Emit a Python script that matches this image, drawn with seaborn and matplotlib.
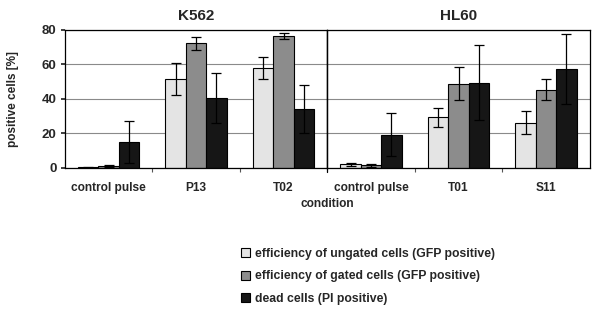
import matplotlib
matplotlib.use('Agg')
import matplotlib.pyplot as plt
import seaborn as sns
import pandas as pd
from matplotlib.patches import Patch

# values (percent positive cells, mean and error)
cell_lines = ['K562', 'HL60']
conditions = {'K562': ['control pulse', 'P13', 'T02'],
              'HL60': ['control pulse', 'T01', 'S11']}
series = ['efficiency of ungated cells (GFP positive)',
          'efficiency of gated cells (GFP positive)',
          'dead cells (PI positive)']

k562_ungated = [0.5, 51.5, 58.0]
k562_gated = [1.0, 72.3, 76.5]
k562_dead = [15.0, 40.5, 34.0]
k562_ungated_err = [0.3, 9.5, 6.5]
k562_gated_err = [0.5, 3.7, 2.0]
k562_dead_err = [12.0, 14.5, 14.0]

hl60_ungated = [2.1, 29.3, 26.3]
hl60_gated = [1.5, 48.8, 45.3]
hl60_dead = [19.3, 49.5, 57.2]
hl60_ungated_err = [0.8, 5.3, 6.8]
hl60_gated_err = [0.9, 9.7, 6.2]
hl60_dead_err = [12.4, 22.0, 20.3]

means = {'K562': [k562_ungated, k562_gated, k562_dead],
         'HL60': [hl60_ungated, hl60_gated, hl60_dead]}
errs = {'K562': [k562_ungated_err, k562_gated_err, k562_dead_err],
        'HL60': [hl60_ungated_err, hl60_gated_err, hl60_dead_err]}

colors = ['#e4e4e4', '#8c8c8c', '#161616']

sns.set_theme(style='white')
plt.rcParams['font.family'] = ['Liberation Sans', 'DejaVu Sans']
plt.rcParams['font.weight'] = 'bold'

fig, axes = plt.subplots(1, 2, figsize=(6, 3.15), dpi=100, sharey=True,
                         gridspec_kw={'wspace': 0})
fig.subplots_adjust(left=0.108, right=0.983, top=0.905, bottom=0.467)

for ax, line in zip(axes, cell_lines):
    rows = []
    for s, vals in zip(series, means[line]):
        for c, v in zip(conditions[line], vals):
            rows.append({'condition': c, 'series': s, 'value': v})
    df = pd.DataFrame(rows)

    ax.yaxis.grid(True, color='#8a8a8a', lw=0.8)
    ax.set_axisbelow(True)
    sns.barplot(data=df, x='condition', y='value', hue='series',
                hue_order=series, order=conditions[line],
                palette=colors, width=0.7, gap=0, edgecolor='black',
                linewidth=0.8, saturation=1, legend=False, ax=ax)

    # error bars at the seaborn bar positions
    for cont, err in zip(ax.containers, errs[line]):
        xs = [p.get_x() + p.get_width() / 2 for p in cont.patches]
        ys = [p.get_height() for p in cont.patches]
        ax.errorbar(xs, ys, yerr=err, fmt='none', ecolor='black',
                    elinewidth=0.9, capsize=3.5, capthick=0.9)

    ax.set_title(line, fontsize=11, fontweight='bold', pad=7)
    ax.set_ylim(0, 80)
    ax.set_xlim(-0.5, 2.5)
    ax.set_yticks([0, 20, 40, 60, 80])
    ax.set_xlabel('')
    ax.set_ylabel('')
    ax.tick_params(axis='x', which='major', length=0, labelsize=8.6, pad=10)
    ax.set_xticks([0.5, 1.5], minor=True)
    ax.tick_params(axis='x', which='minor', length=3, width=0.8,
                   color='#555555', direction='out', bottom=True)
    for sp in ax.spines.values():
        sp.set_color('black')
        sp.set_linewidth(0.9)
    for lab in ax.get_xticklabels():
        lab.set_fontweight('bold')

axes[0].tick_params(axis='y', labelsize=9.5, length=3, pad=3, left=True)
for lab in axes[0].get_yticklabels():
    lab.set_fontweight('bold')
axes[0].set_ylabel('positive cells [%]', fontsize=8.5, fontweight='bold',
                   labelpad=16)
axes[1].tick_params(axis='y', length=0)
# divider between the two cell lines, running a little below the axis
axes[1].axvline(-0.5, ymin=-0.03, ymax=1, color='black', lw=0.9,
                clip_on=False, zorder=5)

fig.text(0.545, 0.352, 'condition', ha='center', va='center',
         fontsize=8.6, fontweight='bold')

handles = [Patch(facecolor=c, edgecolor='black', lw=0.8) for c in colors]
fig.legend(handles, series, loc='upper left', bbox_to_anchor=(0.393, 0.228),
           frameon=False, handlelength=0.8, handleheight=0.8,
           handletextpad=0.35, labelspacing=0.85, borderaxespad=0,
           prop={'weight': 'bold', 'size': 8.8})

fig.savefig('out.png', dpi=100)
